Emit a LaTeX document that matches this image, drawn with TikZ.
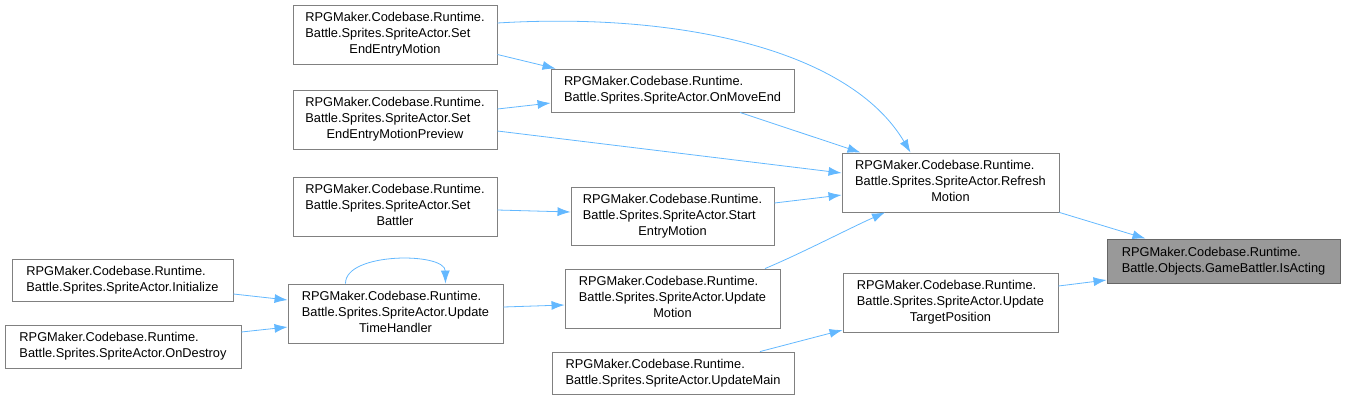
\documentclass[tikz,border=0pt]{standalone}
\usepackage{fontspec}
\setmainfont{Liberation Sans}
\usepackage{tikz}
\usetikzlibrary{positioning,arrows.meta}

\definecolor{edgeblue}{RGB}{99,184,255}
\definecolor{boxgray}{RGB}{128,128,128}
\definecolor{hlgray}{RGB}{153,153,153}

\newcommand{\twol}[2]{\begin{tabular}{@{}l@{}}#1\\#2\end{tabular}}
\newcommand{\threel}[3]{\begin{tabular}{@{}l@{}}#1\\#2\\\multicolumn{1}{@{}c@{}}{#3}\end{tabular}}

\begin{document}
\begin{tikzpicture}[x=1pt,y=-1pt,
	fn/.style={draw=boxgray, line width=0.9pt, fill=white, inner sep=0pt, font=\fontsize{12.8}{16}\selectfont},
	calls/.style={draw=edgeblue, line width=0.8pt, -{Latex[length=13pt,width=9pt]}}]
				\useasboundingbox (0,0) rectangle (1345,400);
				
				\node[fn, minimum width=204, minimum height=59] (seem) at (395,34.5) {\threel{RPGMaker.Codebase.Runtime.}{Battle.Sprites.SpriteActor.Set}{EndEntryMotion}};
				\node[fn, minimum width=204, minimum height=59] (seemp) at (395,119.5) {\threel{RPGMaker.Codebase.Runtime.}{Battle.Sprites.SpriteActor.Set}{EndEntryMotionPreview}};
				\node[fn, minimum width=204, minimum height=59] (setb) at (395,206.5) {\threel{RPGMaker.Codebase.Runtime.}{Battle.Sprites.SpriteActor.Set}{Battler}};
				\node[fn, minimum width=221, minimum height=42] (init) at (122.5,280) {\twol{RPGMaker.Codebase.Runtime.}{Battle.Sprites.SpriteActor.Initialize}};
				\node[fn, minimum width=236, minimum height=43] (ondes) at (123,346.5) {\twol{RPGMaker.Codebase.Runtime.}{Battle.Sprites.SpriteActor.OnDestroy}};
				\node[fn, minimum width=215, minimum height=59] (uth) at (395.5,313.5) {\threel{RPGMaker.Codebase.Runtime.}{Battle.Sprites.SpriteActor.Update}{TimeHandler}};
				
				\node[fn, minimum width=243, minimum height=43] (onme) at (672.5,90.5) {\twol{RPGMaker.Codebase.Runtime.}{Battle.Sprites.SpriteActor.OnMoveEnd}};
				\node[fn, minimum width=203, minimum height=58] (sem) at (672.5,216) {\threel{RPGMaker.Codebase.Runtime.}{Battle.Sprites.SpriteActor.Start}{EntryMotion}};
				\node[fn, minimum width=215, minimum height=59] (upm) at (672.5,298.5) {\threel{RPGMaker.Codebase.Runtime.}{Battle.Sprites.SpriteActor.Update}{Motion}};
				\node[fn, minimum width=242, minimum height=42] (upmain) at (673,373) {\twol{RPGMaker.Codebase.Runtime.}{Battle.Sprites.SpriteActor.UpdateMain}};
				
				\node[fn, minimum width=217, minimum height=59] (refr) at (950.5,182.5) {\threel{RPGMaker.Codebase.Runtime.}{Battle.Sprites.SpriteActor.Refresh}{Motion}};
				\node[fn, minimum width=215, minimum height=59] (utp) at (950.5,302.5) {\threel{RPGMaker.Codebase.Runtime.}{Battle.Sprites.SpriteActor.Update}{TargetPosition}};
				\node[fn, fill=hlgray, draw=boxgray!80!black, minimum width=233, minimum height=44] (isact) at (1223.5,261) {\twol{RPGMaker.Codebase.Runtime.}{Battle.Objects.GameBattler.IsActing}};
				
				\draw[calls] ([yshift=11.5]seem.east) .. controls (680,12) and (850,50) .. ([xshift=-40]refr.north);
				\draw[calls] ([yshift=-20]seem.east) -- ([xshift=5]onme.north west);
				\draw[calls] ([yshift=10.5]seemp.east) -- ([yshift=-12.5]onme.west);
				\draw[calls] ([yshift=-11.5]seemp.east) -- ([yshift=9.5]refr.west);
				\draw[calls] ([xshift=67.5]onme.south) -- ([xshift=-90]refr.north);
				\draw[calls] ([yshift=-3.5]setb.east) -- ([yshift=4]sem.west);
				\draw[calls] ([yshift=13]sem.east) -- ([yshift=-12.5]refr.west);
				\draw[calls] ([xshift=92.5]upm.north) .. controls (800,254) and (850,228) .. ([xshift=-65.5]refr.south);
				\draw[calls] ([yshift=-14]init.east) -- ([yshift=13.5]uth.west);
				\draw[calls] ([yshift=14.5]ondes.east) -- ([yshift=-13.5]uth.west);
				\draw[calls] ([xshift=-50]uth.north) .. controls (345,252) and (445,252) .. ([xshift=50]uth.north);
				\draw[calls] ([yshift=6.5]uth.east) -- ([yshift=-6.5]upm.west);
				\draw[calls] ([xshift=87]upmain.north) -- ([yshift=-27.5]utp.west);
				\draw[calls] (refr.south east) -- ([xshift=-78]isact.north);
				\draw[calls] ([yshift=16.5]utp.east) -- ([yshift=-19]isact.west);
			\end{tikzpicture}
\end{document}
